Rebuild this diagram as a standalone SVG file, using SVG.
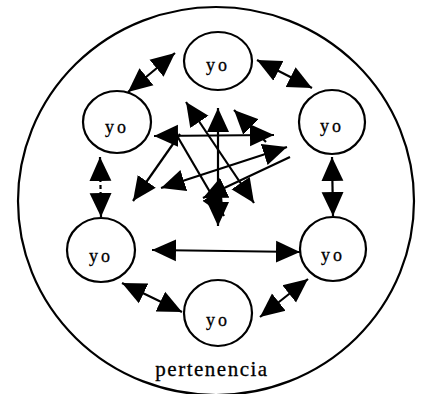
<svg xmlns="http://www.w3.org/2000/svg" width="422" height="394" viewBox="0 0 422 394">
<defs>
<marker id="ah" markerUnits="userSpaceOnUse" markerWidth="25" markerHeight="24" refX="24" refY="12" orient="auto-start-reverse" viewBox="0 0 25 24">
<path d="M0,1 L24,12 L0,23 z" fill="#000"/>
</marker>
<style>
.node ellipse{fill:#fff;stroke:#000;stroke-width:2.2}
.node text{font-family:"Liberation Serif","Times New Roman",serif;font-size:18px;letter-spacing:3px;text-anchor:middle;fill:#000;stroke:#000;stroke-width:0.3}
.conn line{stroke:#000;stroke-width:2.2;fill:none}
.both{marker-start:url(#ah);marker-end:url(#ah)}
.one{marker-end:url(#ah)}
</style>
</defs>
<rect width="422" height="394" fill="#fff"/>
<g id="pertenencia">
<ellipse cx="216" cy="201" rx="198" ry="194" fill="none" stroke="#000" stroke-width="2.2"/>
<text x="212" y="376" font-family="Liberation Serif, Times New Roman, serif" font-size="21" letter-spacing="1.5" text-anchor="middle" stroke="#000" stroke-width="0.3">pertenencia</text>
</g>
<g id="yo-top" class="node"><ellipse cx="218" cy="61" rx="34" ry="29"/><text x="218" y="71">yo</text></g>
<g id="yo-upper-left" class="node"><ellipse cx="117" cy="122" rx="34" ry="31"/><text x="117" y="133">yo</text></g>
<g id="yo-upper-right" class="node"><ellipse cx="332" cy="122" rx="33" ry="32"/><text x="332" y="132">yo</text></g>
<g id="yo-lower-left" class="node"><ellipse cx="101" cy="250" rx="34" ry="32"/><text x="101" y="262">yo</text></g>
<g id="yo-lower-right" class="node"><ellipse cx="333" cy="249" rx="33" ry="32"/><text x="333" y="261">yo</text></g>
<g id="yo-bottom" class="node"><ellipse cx="218" cy="313" rx="34" ry="33"/><text x="218" y="326">yo</text></g>
<g id="connectors" class="conn">
<line class="both" x1="128" y1="92" x2="175" y2="53"/>
<line class="both" x1="257" y1="60" x2="312" y2="88"/>
<line class="both" x1="100" y1="157" x2="101" y2="217" stroke-dasharray="4 3"/>
<line class="both" x1="332" y1="157" x2="333" y2="216"/>
<line class="both" x1="152" y1="250" x2="300" y2="252"/>
<line class="both" x1="122" y1="283" x2="182" y2="312"/>
<line class="both" x1="260" y1="317" x2="308" y2="279"/>
<line class="both" x1="154" y1="136" x2="274" y2="135"/>
<line class="both" x1="218" y1="108" x2="218" y2="226"/>
<line class="one" x1="180" y1="134" x2="133" y2="201"/>
<line class="both" x1="186" y1="102" x2="254" y2="203"/>
<line class="one" x1="176" y1="134" x2="224" y2="216"/>
<line class="both" x1="287" y1="147" x2="161" y2="188"/>
<line class="one" x1="290" y1="157" x2="203" y2="198"/>
<line class="one" x1="266" y1="142" x2="234" y2="110"/>
</g>
</svg>
